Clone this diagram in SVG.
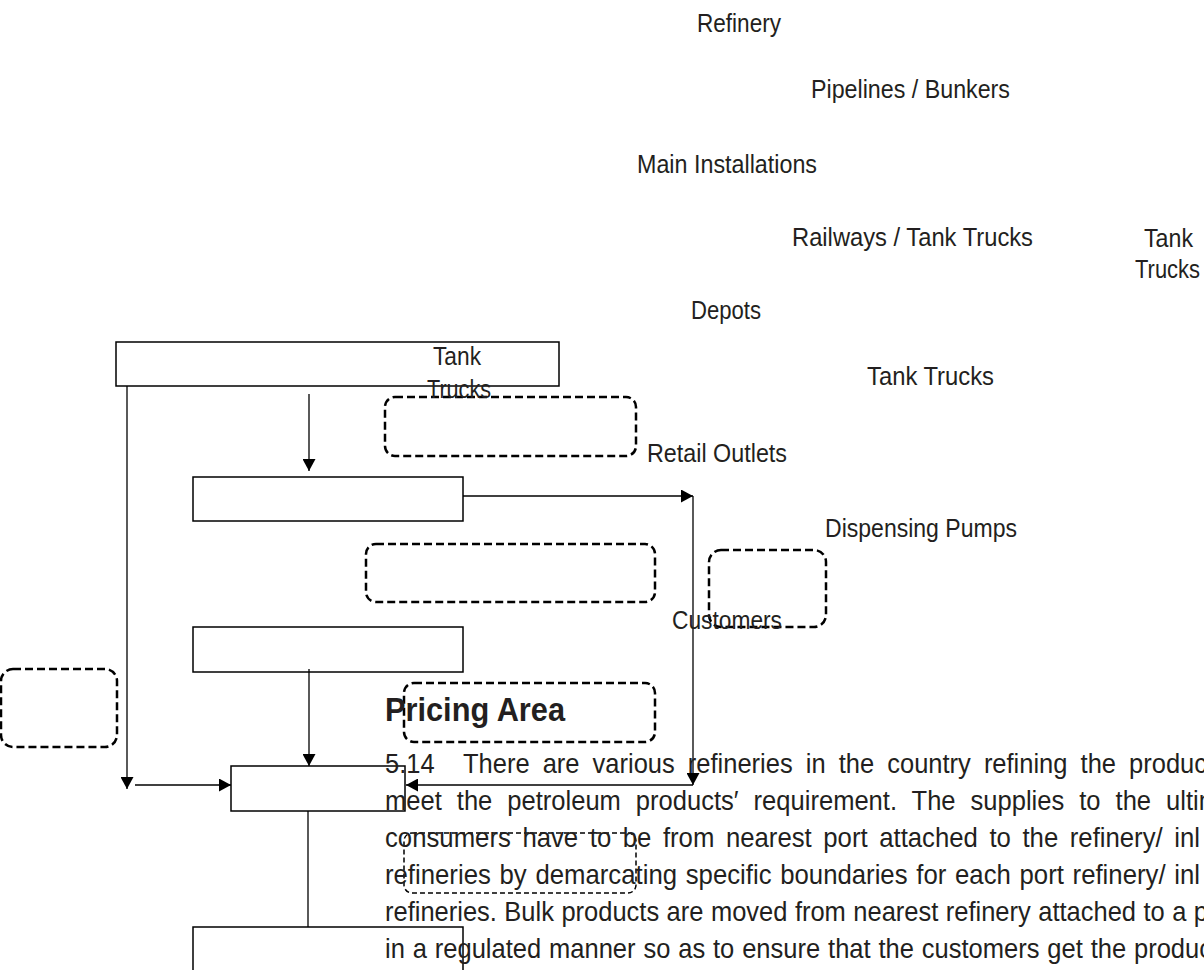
<svg xmlns="http://www.w3.org/2000/svg" width="1204" height="970" viewBox="0 0 1204 970">
<style>
.box{fill:none;stroke:#000;stroke-width:1.5}
.dash{fill:none;stroke:#000;stroke-width:2.5;stroke-dasharray:8 4}
.dashthin{fill:none;stroke:#000;stroke-width:1.5;stroke-dasharray:5 3}
.conn{fill:none;stroke:#000;stroke-width:1.3}
.lbl{font-family:"Liberation Sans",Arial,sans-serif;font-size:25px;fill:#231f20}
.body{font-family:"Liberation Sans",Arial,sans-serif;font-size:27.5px;fill:#231f20}
.head{font-family:"Liberation Sans",Arial,sans-serif;font-size:33.5px;font-weight:bold;fill:#231f20}
</style>
<defs>
<marker id="arr" markerUnits="userSpaceOnUse" markerWidth="12" markerHeight="13" refX="12" refY="6.5" orient="auto">
<path d="M0,0 L12,6.5 L0,13 z" fill="#000"/>
</marker>
</defs>
<rect width="1204" height="970" fill="#fff"/>

<g id="node-refinery"><rect class="box" x="116" y="342" width="443" height="44"/></g>
<g id="node-main-installations"><rect class="box" x="193" y="477" width="270" height="44"/></g>
<g id="node-depots"><rect class="box" x="193" y="627" width="270" height="45"/></g>
<g id="node-retail-outlets"><rect class="box" x="231" y="766" width="174" height="45"/></g>
<g id="node-customers"><rect class="box" x="193" y="927" width="270" height="60"/></g>

<g id="node-dash-pipelines"><rect class="dash" x="385" y="397" width="251" height="59" rx="10"/></g>
<g id="node-dash-railways"><rect class="dash" x="366" y="544" width="289" height="58" rx="10"/></g>
<g id="node-dash-left"><rect class="dash" x="1" y="669" width="116" height="78" rx="12"/></g>
<g id="node-dash-customers"><rect class="dash" x="709" y="550" width="117" height="77" rx="12"/></g>
<g id="node-dash-pricing"><rect class="dash" x="404" y="683" width="251" height="59" rx="10"/></g>
<g id="node-dash-text"><rect class="dashthin" x="404" y="833" width="232" height="60" rx="8"/></g>

<g id="connectors">
<line class="conn" x1="127" y1="386" x2="127" y2="789" marker-end="url(#arr)"/>
<line class="conn" x1="135" y1="785" x2="231" y2="785" marker-end="url(#arr)"/>
<line class="conn" x1="309" y1="394" x2="309" y2="471" marker-end="url(#arr)"/>
<line class="conn" x1="463" y1="496" x2="693" y2="496" marker-end="url(#arr)"/>
<line class="conn" x1="693" y1="496" x2="693" y2="785" marker-end="url(#arr)"/>
<line class="conn" x1="693" y1="785" x2="406" y2="785" marker-end="url(#arr)"/>
<line class="conn" x1="309" y1="669" x2="309" y2="766" marker-end="url(#arr)"/>
<line class="conn" x1="308" y1="811" x2="308" y2="927"/>
</g>

<g id="labels">
<text class="lbl" x="697" y="32" textLength="84" lengthAdjust="spacingAndGlyphs">Refinery</text>
<text class="lbl" x="811" y="98" textLength="199" lengthAdjust="spacingAndGlyphs">Pipelines / Bunkers</text>
<text class="lbl" x="637" y="173" textLength="180" lengthAdjust="spacingAndGlyphs">Main Installations</text>
<text class="lbl" x="792" y="246" textLength="241" lengthAdjust="spacingAndGlyphs">Railways / Tank Trucks</text>
<text class="lbl" x="1144" y="247" textLength="49" lengthAdjust="spacingAndGlyphs">Tank</text>
<text class="lbl" x="1135" y="278" textLength="65" lengthAdjust="spacingAndGlyphs">Trucks</text>
<text class="lbl" x="691" y="319" textLength="70" lengthAdjust="spacingAndGlyphs">Depots</text>
<text class="lbl" x="433" y="365" textLength="48" lengthAdjust="spacingAndGlyphs">Tank</text>
<text class="lbl" x="427" y="398" textLength="64" lengthAdjust="spacingAndGlyphs">Trucks</text>
<text class="lbl" x="867" y="385" textLength="127" lengthAdjust="spacingAndGlyphs">Tank Trucks</text>
<text class="lbl" x="647" y="462" textLength="140" lengthAdjust="spacingAndGlyphs">Retail Outlets</text>
<text class="lbl" x="825" y="537" textLength="192" lengthAdjust="spacingAndGlyphs">Dispensing Pumps</text>
<text class="lbl" x="672" y="629" textLength="110" lengthAdjust="spacingAndGlyphs">Customers</text>
</g>

<g id="body-text">
<text class="head" x="385" y="721" textLength="180" lengthAdjust="spacingAndGlyphs">Pricing Area</text>
<text class="body" x="385" y="773" textLength="49.6" lengthAdjust="spacingAndGlyphs">5.14</text>
<text class="body" x="463" y="773" word-spacing="6.5" textLength="744" lengthAdjust="spacingAndGlyphs">There are various refineries in the country refining the produc</text>
<text class="body" x="385" y="810" word-spacing="8.5" textLength="835" lengthAdjust="spacingAndGlyphs">meet the petroleum products′ requirement. The supplies to the ultim</text>
<text class="body" x="385" y="847" word-spacing="4.7" textLength="815" lengthAdjust="spacingAndGlyphs">consumers have to be from nearest port attached to the refinery/ inl</text>
<text class="body" x="385" y="884" word-spacing="1.7" textLength="815" lengthAdjust="spacingAndGlyphs">refineries by demarcating specific boundaries for each port refinery/ inl</text>
<text class="body" x="385" y="921" word-spacing="0.4" textLength="823" lengthAdjust="spacingAndGlyphs">refineries. Bulk products are moved from nearest refinery attached to a p</text>
<text class="body" x="385" y="958" word-spacing="0.85" textLength="827" lengthAdjust="spacingAndGlyphs">in a regulated manner so as to ensure that the customers get the produc</text>
</g>
</svg>
